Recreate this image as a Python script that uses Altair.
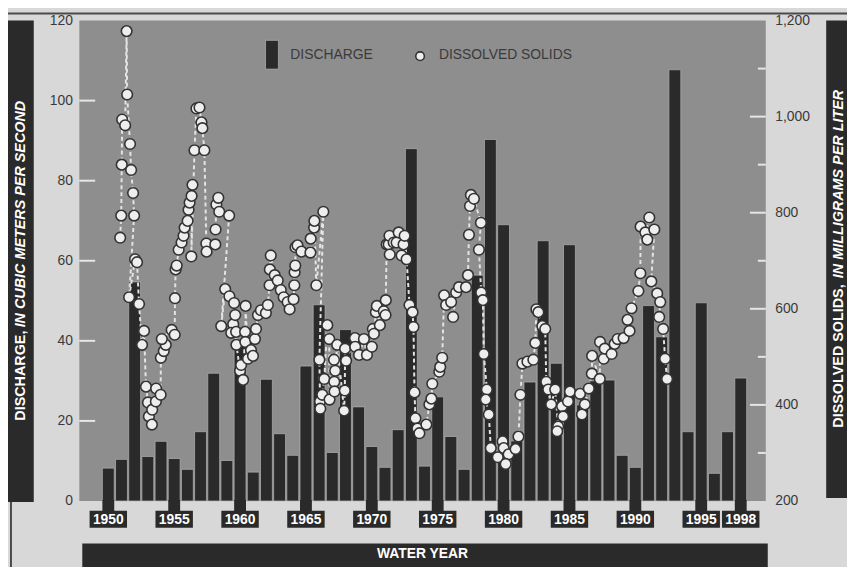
import altair as alt
import pandas as pd

# ---------------- data ----------------
water_year = list(range(1950, 1999))
discharge = [8.2, 10.4, 54.7, 11.1, 14.9, 10.6, 7.9, 17.3, 31.9, 10.1,
             39.0, 7.2, 30.4, 16.8, 11.4, 33.7, 49.0, 12.1, 42.8, 23.5,
             13.6, 8.4, 17.8, 88.0, 8.7, 26.0, 16.1, 7.9, 56.4, 90.3,
             69.0, 15.0, 29.7, 65.0, 34.4, 64.0, 24.0, 30.0, 30.2, 11.4,
             8.4, 48.8, 41.0, 107.7, 17.3, 49.5, 6.9, 17.3, 30.7]

tick_years = [1950, 1955, 1960, 1965, 1970, 1975, 1980, 1985, 1990, 1995, 1998]
discharge_ticks = [0, 20, 40, 60, 80, 100, 120]
discharge_inner_ticks = [20, 40, 60, 80, 100]
solids_ticks = [200, 400, 600, 800, 1000, 1200]
solids_major_inner = [400, 600, 800, 1000]
solids_minor_inner = [300, 500, 700, 900, 1100]

ds_year = [
    1950.90, 1950.98, 1951.02, 1951.05, 1951.28, 1951.39, 1951.43, 1951.65, 1951.73, 1951.88,
    1951.96, 1951.58, 1952.03, 1952.18, 1952.33, 1952.56, 1952.71, 1952.86, 1953.01, 1953.08,
    1953.31, 1953.33, 1953.61, 1953.63, 1953.97, 1953.99, 1954.21, 1954.36, 1954.06, 1954.81,
    1955.04, 1955.06, 1955.11, 1955.19,
    1955.34, 1955.56, 1955.71, 1955.79, 1956.02, 1956.09, 1956.17, 1956.32, 1956.39, 1956.30,
    1956.54, 1956.69, 1956.92, 1957.07, 1957.14, 1957.29, 1957.44, 1957.46, 1958.12, 1958.14,
    1958.20, 1958.35, 1958.42, 1959.17,
    1958.57, 1958.87, 1959.19, 1959.55, 1959.48, 1959.63, 1959.33, 1959.70, 1959.72, 1960.00,
    1960.08, 1960.23, 1960.38, 1960.40, 1960.42, 1960.60, 1960.83, 1960.98, 1961.13, 1961.21,
    1961.36, 1961.58, 1961.96, 1962.11, 1962.24, 1962.26, 1962.33, 1962.63, 1962.86, 1963.09,
    1963.31, 1963.61, 1963.76, 1964.06, 1964.12, 1964.14, 1964.19, 1964.21, 1964.36, 1964.66,
    1965.34, 1965.36, 1965.62, 1965.64, 1965.79, 1966.32, 1966.02, 1966.07, 1966.09, 1966.24,
    1966.39, 1966.62, 1966.77, 1966.79, 1967.13, 1967.15, 1967.17, 1967.22, 1967.37, 1967.90,
    1967.95, 1967.97, 1968.05, 1968.72, 1968.74, 1969.03, 1969.40, 1969.63, 1970.00, 1970.08,
    1970.16, 1970.31, 1970.38, 1970.61, 1970.91, 1971.04, 1971.06, 1971.13, 1971.28, 1971.34,
    1971.36, 1971.66, 1971.88, 1972.04, 1972.26, 1972.41, 1972.49, 1972.64,
    1972.86, 1973.09, 1973.16, 1973.24, 1973.31, 1973.46, 1973.61, 1974.14, 1974.37, 1974.52,
    1974.59, 1975.12, 1975.19, 1975.34, 1975.49, 1975.64, 1976.02, 1976.17, 1976.40, 1976.62,
    1977.15, 1977.30, 1977.37, 1977.45, 1977.52, 1977.75, 1978.28, 1978.13, 1978.30, 1978.43,
    1978.50, 1978.73, 1978.65, 1978.88, 1979.03, 1979.56, 1979.93, 1980.01, 1980.38, 1980.16,
    1980.91, 1981.13, 1981.28, 1981.43, 1981.81, 1982.26, 1982.41, 1982.49, 1982.64, 1982.94,
    1983.16, 1983.24, 1983.39, 1983.61, 1983.92, 1984.14, 1984.07, 1984.44, 1984.52, 1984.89,
    1985.04, 1985.80, 1985.95, 1986.17, 1986.47, 1986.70, 1986.72, 1987.30, 1987.32, 1987.60,
    1987.68, 1988.20, 1988.43, 1988.66, 1989.11, 1989.41, 1989.56, 1989.71, 1990.23, 1990.38,
    1990.40, 1990.76, 1991.06, 1990.91, 1991.44, 1991.21, 1991.66, 1991.89, 1991.81, 1992.11,
    1992.26, 1992.41,
]
ds_value = [
    748, 794, 900, 994, 982, 1178, 1046, 943, 889, 841,
    794, 624, 703, 697, 610, 525, 554, 438, 405, 376,
    359, 390, 407, 434, 421, 498, 512, 525, 537, 556,
    546, 622, 682, 690,
    723, 738, 752, 769, 783, 806, 821, 835, 858, 709,
    930, 1017, 1019, 988, 976, 930, 736, 719, 734, 765,
    817, 831, 802, 794,
    564, 641, 626, 612, 568, 587, 550, 552, 525, 471,
    483, 452, 552, 531, 606, 496, 514, 502, 537, 558,
    587, 597, 591, 608, 649, 682, 711, 670, 659, 639,
    624, 614, 599, 620, 649, 676, 690, 728, 732, 719,
    717, 746, 769, 783, 649, 802, 494, 407, 392, 421,
    454, 566, 537, 411, 494, 448, 428, 471, 525, 388,
    430, 517, 492, 539, 521, 504, 537, 504, 521, 558,
    548, 593, 606, 566, 595, 587, 618, 734, 734, 752,
    713, 738, 738, 759, 711, 734, 752, 703,
    608, 593, 562, 426, 372, 351, 341, 359, 401, 413,
    444, 469, 479, 498, 628, 608, 614, 583, 634, 645,
    645, 670, 754, 814, 837, 829, 779, 723, 634, 618,
    506, 432, 411, 380, 310, 291, 324, 310, 297, 277,
    308, 334, 421, 486, 490, 494, 529, 599, 593, 564,
    558, 448, 432, 401, 432, 355, 345, 397, 376, 407,
    428, 423, 380, 401, 434, 465, 502, 454, 531, 496,
    517, 506, 527, 537, 539, 577, 554, 601, 637, 674,
    771, 759, 790, 744, 765, 657, 632, 614, 583, 558,
    496, 454,
]

# ---------------- layout / style ----------------
W, H = 693, 485
PAD_L, PAD_T, PAD_R, PAD_B = 72, 10, 82, 64
FONT = "Liberation Sans"
DARK = "#2a2a2a"
TXT = "#3a3a3a"
PLOT_BG = "#8e8e8e"
PAGE_BG = "#d8d8d8"

xs = alt.Scale(domain=[1947.8, 1999.9], nice=False, zero=False)
yl = alt.Scale(domain=[0, 120], nice=False)
yr = alt.Scale(domain=[200, 1200], nice=False, zero=False)

left_axis = alt.Axis(orient="left", values=discharge_ticks, ticks=False, domain=False,
                     grid=False, labelPadding=7, labelFontSize=14, labelFont=FONT,
                     labelColor=TXT, title=None)
right_axis = alt.Axis(orient="right", values=solids_ticks, format=",d", ticks=False,
                      domain=False, grid=False, labelPadding=9, labelFontSize=14,
                      labelFont=FONT, labelColor=TXT, title=None)

bars_df = pd.DataFrame({"year": water_year, "discharge": discharge})
ticks_df = pd.DataFrame({"year": tick_years})
ds_df = pd.DataFrame({"year": ds_year, "solids": ds_value})
ds_df["seq"] = range(len(ds_df))
one = pd.DataFrame({"k": [0]})

bars = alt.Chart(bars_df).transform_calculate(
    x0="datum.year - 0.45", x1="datum.year + 0.45"
).mark_bar(color=DARK, stroke="#b4b4b4", strokeWidth=0.7).encode(
    x=alt.X("x0:Q", scale=xs, axis=None),
    x2="x1:Q",
    y=alt.Y("discharge:Q", scale=yl, axis=left_axis),
    y2=alt.datum(0),
)

ext = alt.Chart(ticks_df).transform_calculate(
    x0="datum.year - 0.45", x1="datum.year + 0.45"
).mark_bar(color=DARK).encode(
    x=alt.X("x0:Q", scale=xs, axis=None), x2="x1:Q",
    y=alt.value(H - 1), y2=alt.value(H + 11),
)

boxes = alt.Chart(ticks_df).transform_calculate(
    x0="datum.year - 1.42", x1="datum.year + 1.42"
).mark_rect(color=DARK).encode(
    x=alt.X("x0:Q", scale=xs, axis=None), x2="x1:Q",
    y=alt.value(H + 10), y2=alt.value(H + 27),
)

box_text = alt.Chart(ticks_df).mark_text(
    color="white", font=FONT, fontSize=14, fontWeight="bold", baseline="middle"
).encode(
    x=alt.X("year:Q", scale=xs, axis=None),
    y=alt.value(H + 19),
    text=alt.Text("year:Q", format="d"),
)

left_inner = alt.Chart(pd.DataFrame({"v": discharge_inner_ticks})).mark_rule(
    color="#e6e6e6", strokeWidth=2
).encode(y=alt.Y("v:Q", scale=yl, axis=left_axis), x=alt.value(0), x2=alt.value(16))

# decorations
def deco_rect(x, x2, y, y2, color):
    return alt.Chart(one).mark_rect(color=color).encode(
        x=alt.value(x), x2=alt.value(x2), y=alt.value(y), y2=alt.value(y2))

def deco_text(txt, x, y, angle=0, align="left", italic=False, bold=True, color="white", size=14.5):
    return alt.Chart(one).mark_text(
        text=txt, angle=angle, align=align, baseline="middle", font=FONT, fontSize=size,
        fontStyle="italic" if italic else "normal", fontWeight="bold" if bold else "normal",
        color=color,
    ).encode(x=alt.value(x), y=alt.value(y))

left_bar = deco_rect(-72, -46, 0, 486, DARK)
left_t1 = deco_text("DISCHARGE,", -59, 404, angle=270, align="left")
left_t2 = deco_text("IN CUBIC METERS PER SECOND", -59, 81, angle=270, align="right", italic=True)

right_bar = deco_rect(W + 61, W + 82, 0, 482, DARK)
right_t1 = deco_text("DISSOLVED SOLIDS,", W + 74, 411, angle=270, align="left")
right_t2 = deco_text("IN MILLIGRAMS PER LITER", W + 74, 70, angle=270, align="right", italic=True)

wy_bar = deco_rect(3, W + 2, 528, 562, DARK)
wy_text = deco_text("WATER YEAR", W / 2, 539, align="center", size=14)

top_line = alt.Chart(one).mark_rule(color="#4a4a4a", strokeWidth=2).encode(
    x=alt.value(-72), x2=alt.value(W + 82), y=alt.value(-7))
left_line = alt.Chart(one).mark_rule(color="#4a4a4a", strokeWidth=2).encode(
    x=alt.value(-69), y=alt.value(486), y2=alt.value(H + 80))

leg_bar = alt.Chart(one).mark_rect(color=DARK, stroke="#b4b4b4", strokeWidth=0.7).encode(
    x=alt.value(188), x2=alt.value(201), y=alt.value(20), y2=alt.value(49))
leg_t1 = deco_text("DISCHARGE", 213, 35, bold=False, color=TXT, size=14)
leg_pt = alt.Chart(one).mark_point(
    filled=True, fill="#eeeeee", stroke="#333333", strokeWidth=1.6, size=75, opacity=1
).encode(x=alt.value(344), y=alt.value(36))
leg_t2 = deco_text("DISSOLVED SOLIDS", 363, 35, bold=False, color=TXT, size=14)

left_layer = alt.layer(
    top_line, left_line, left_bar, left_t1, left_t2, right_bar, right_t1, right_t2,
    wy_bar, wy_text, bars, ext, boxes, box_text, left_inner,
    leg_bar, leg_t1, leg_pt, leg_t2,
)

# dissolved solids (right axis)
line = alt.Chart(ds_df).mark_line(
    color="#e4e4e4", strokeDash=[4, 3], strokeWidth=2
).encode(
    x=alt.X("year:Q", scale=xs, axis=None),
    y=alt.Y("solids:Q", scale=yr, axis=right_axis),
    order="seq:Q",
)
pts = alt.Chart(ds_df).mark_point(
    filled=True, fill="#eeeeee", stroke="#333333", strokeWidth=1.6, size=115, opacity=1
).encode(
    x=alt.X("year:Q", scale=xs, axis=None),
    y=alt.Y("solids:Q", scale=yr, axis=right_axis),
)
right_major = alt.Chart(pd.DataFrame({"v": solids_major_inner})).mark_rule(
    color="#e6e6e6", strokeWidth=2
).encode(y=alt.Y("v:Q", scale=yr, axis=right_axis), x=alt.value(W - 16), x2=alt.value(W))
right_minor = alt.Chart(pd.DataFrame({"v": solids_minor_inner})).mark_rule(
    color="#e6e6e6", strokeWidth=2
).encode(y=alt.Y("v:Q", scale=yr, axis=right_axis), x=alt.value(W - 8), x2=alt.value(W))

right_layer = alt.layer(right_major, right_minor, line, pts)

chart = alt.layer(left_layer, right_layer).resolve_scale(y="independent").properties(
    width=W, height=H,
    autosize=alt.AutoSizeParams(type="none"),
    padding={"left": PAD_L, "top": PAD_T, "right": PAD_R, "bottom": PAD_B},
    background=PAGE_BG,
).configure_view(fill=PLOT_BG, stroke=None)

chart.save("out.html", embed_options={"renderer": "svg", "actions": False})
